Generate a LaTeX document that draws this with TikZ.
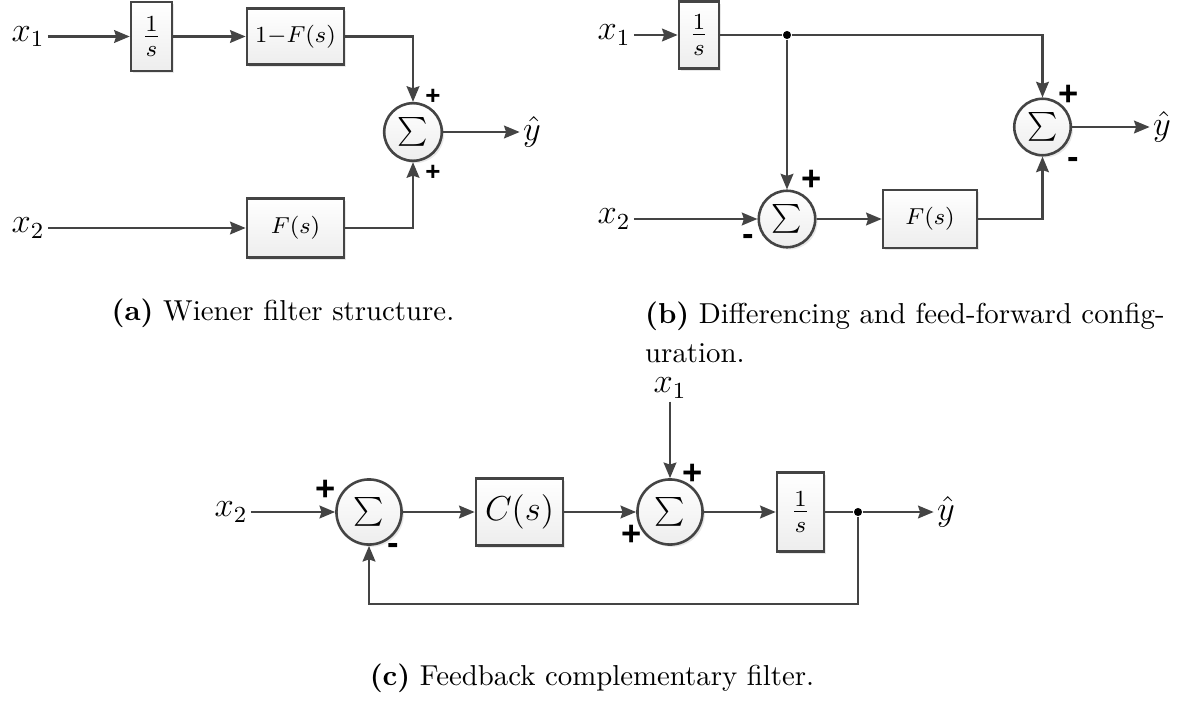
\documentclass[tikz,border=0pt]{standalone}
\usepackage{fontspec}
\newfontfamily\signfont{Liberation Sans}
\usetikzlibrary{arrows.meta,shadows}
\definecolor{wiregray}{HTML}{444444}
\begin{document}
\begin{tikzpicture}
   [x=.347pt, y=-.347pt,
   wire/.style={wiregray, line width=.9pt},
   conn/.style={-{Stealth[length=5.4pt,width=4.4pt,inset=.7pt]}, wiregray, line width=.9pt},
   block/.style={draw=wiregray, line width=.9pt, top color=white, bottom color=gray!14, inner sep=0pt,
     drop shadow={opacity=.18, shadow xshift=.8pt, shadow yshift=-.8pt}},
   sumnode/.style={circle, draw=wiregray, line width=.9pt, top color=white, bottom color=gray!14, inner sep=0pt,
     font=\small, drop shadow={opacity=.18, shadow xshift=.8pt, shadow yshift=-.8pt}},
   signal/.style={inner sep=1pt, font=\large},
   sign/.style={inner sep=0pt, font=\signfont\bfseries\large},
   junction/.style={circle, fill=black, inner sep=0pt, minimum size=2.8pt}]
    \useasboundingbox (0,0) rectangle (1185,703);
    % (a)
    \node[signal] (x1a) at (28,36.5) {$x_1$};
    \node[block, minimum width=14.2pt, minimum height=23.9pt, font=\large] (inta) at (151.5,36.5) {$\frac{1}{s}$};
    \node[block, minimum width=33.7pt, minimum height=19.4pt, font=\footnotesize] (hpfa) at (295.5,36.5) {$1{-}F(s)$};
    \node[sumnode, minimum size=20pt] (suma) at (413,132) {$\sum$};
    \node[signal] (x2a) at (28,228) {$x_2$};
    \node[block, minimum width=33.7pt, minimum height=20.6pt, font=\footnotesize] (lpfa) at (295.5,228) {$F(s)$};
    \node[signal] (yhata) at (532,132) {$\hat{y}$};
    \node[sign, font=\signfont\bfseries\small] (pa1) at (433,97) {+};
    \node[sign, font=\signfont\bfseries\small] (pa2) at (433,173) {+};
    \draw[conn] (x1a) -- (inta);
    \draw[conn] (inta) -- (hpfa);
    \draw[conn] (hpfa) -| (suma);
    \draw[conn] (x2a) -- (lpfa);
    \draw[conn] (lpfa) -| (suma);
    \draw[conn] (suma) -- (yhata);
    % (b)
    \node[signal] (x1b) at (614,35) {$x_1$};
    \node[block, minimum width=13.9pt, minimum height=23.2pt, font=\large] (intb) at (699,35) {$\frac{1}{s}$};
    \node[junction] (jb) at (787,35) {};
    \node[sumnode, minimum size=19.6pt] (sumb) at (787,219) {$\sum$};
    \node[signal] (x2b) at (614,219) {$x_2$};
    \node[block, minimum width=32.6pt, minimum height=20.1pt, font=\footnotesize] (lpfb) at (930,219) {$F(s)$};
    \node[sumnode, minimum size=19.6pt] (outb) at (1042.5,127) {$\sum$};
    \node[signal] (yhatb) at (1162,127) {$\hat{y}$};
    \node[sign] (pb1) at (812,180) {+};
    \node[sign] (mb1) at (748,240) {-};
    \node[sign] (pb2) at (1069,95) {+};
    \node[sign] (mb2) at (1073,163) {-};
    \draw[conn] (x1b) -- (intb);
    \draw[wire] (intb) -- (jb);
    \draw[conn] (jb) -| (outb);
    \draw[conn] (jb) -- (sumb);
    \draw[conn] (x2b) -- (sumb);
    \draw[conn] (sumb) -- (lpfb);
    \draw[conn] (lpfb) -| (outb);
    \draw[conn] (outb) -- (yhatb);
    % (c)
    \node[signal] (x2c) at (231,512) {$x_2$};
    \node[sumnode, minimum size=22.6pt, font=\normalsize] (errc) at (369,512) {$\sum$};
    \node[block, minimum width=30.2pt, minimum height=23.2pt, font=\large] (ctrlc) at (519.5,512) {$C(s)$};
    \node[sumnode, minimum size=22.6pt, font=\normalsize] (addc) at (670,512) {$\sum$};
    \node[signal] (x1c) at (670,388) {$x_1$};
    \node[block, minimum width=16.3pt, minimum height=27.4pt, font=\large] (intc) at (800.5,512) {$\frac{1}{s}$};
    \node[junction] (jc) at (858,512) {};
    \node[signal] (yhatc) at (946,512) {$\hat{y}$};
    \coordinate (fbc) at (858,604);
    \node[sign] (pc1) at (326,490) {+};
    \node[sign] (mc1) at (393,549) {-};
    \node[sign] (pc2) at (632,535) {+};
    \node[sign] (pc3) at (693,474) {+};
    \draw[conn] (x2c) -- (errc);
    \draw[conn] (errc) -- (ctrlc);
    \draw[conn] (ctrlc) -- (addc);
    \draw[conn] (x1c) -- (addc);
    \draw[conn] (addc) -- (intc);
    \draw[wire] (intc) -- (jc);
    \draw[conn] (jc) -- (yhatc);
    \draw[conn] (jc) -- (fbc) -| (errc);
    % captions
    \node (capa) at (283,313) {\textbf{(a)} Wiener filter structure.};
    \node[anchor=west, align=left, font=\fontsize{10}{13.5}\selectfont] (capb) at (635,332) {\textbf{(b)} Differencing and feed-forward config-\\uration.};
    \node (capc) at (592,678) {\textbf{(c)} Feedback complementary filter.};
\end{tikzpicture}
\end{document}
